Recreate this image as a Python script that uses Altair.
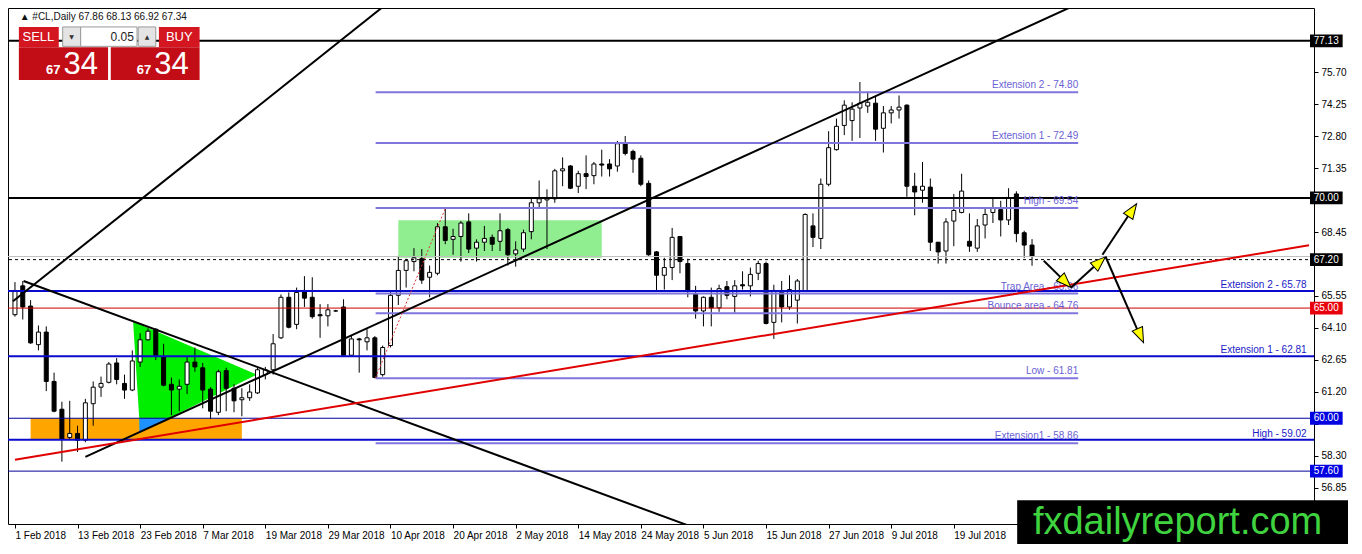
import altair as alt
import pandas as pd

# #CL daily bars, index 0 = 1 Feb 2018 ... 130 = last bar
opens = [64.70, 66.01, 65.09, 63.34, 63.91, 61.67, 60.41, 59.13, 59.31, 59.00,
         60.66, 61.41, 61.63, 62.51, 61.58, 61.28, 62.55, 63.56, 64.04, 62.77,
         61.54, 61.32, 61.54, 62.55, 62.29, 61.32, 60.27, 62.16, 61.36, 60.84,
         60.93, 61.15, 61.98, 62.20, 63.65, 65.49, 64.26, 65.80, 65.49, 64.70,
         64.65, 64.87, 65.05, 62.86, 63.60, 63.47, 63.65, 61.98, 63.30, 65.58,
         66.71, 67.11, 67.24, 66.40, 66.58, 68.69, 68.12, 68.25, 68.91, 67.72,
         67.99, 68.21, 68.03, 68.56, 67.46, 67.68, 68.47, 69.78, 69.91, 69.96,
         71.23, 71.45, 70.53, 71.10, 71.01, 71.54, 71.54, 71.45, 72.46, 72.11,
         71.80, 70.66, 67.55, 66.49, 66.84, 68.25, 67.02, 65.62, 64.87, 65.49,
         65.01, 65.97, 65.53, 66.06, 66.01, 66.58, 67.02, 64.35, 65.80, 65.05,
         65.36, 65.77, 68.73, 68.16, 70.62, 72.19, 73.29, 73.51, 74.08, 74.17,
         74.30, 73.16, 73.86, 73.99, 74.21, 70.53, 70.35, 70.49, 67.99, 67.59,
         68.95, 69.34, 68.03, 67.72, 68.77, 69.34, 69.47, 69.00, 70.18, 68.42,
         67.86]
highs = [66.18, 66.23, 65.36, 64.21, 64.17, 62.07, 60.75, 60.79, 59.66, 60.88,
         61.67, 61.89, 62.55, 62.73, 61.98, 63.08, 63.86, 64.08, 64.08, 63.38,
         61.85, 61.76, 62.77, 63.21, 62.51, 61.41, 62.20, 62.29, 61.54, 61.36,
         61.54, 62.29, 62.33, 63.82, 65.62, 65.71, 65.93, 66.45, 66.40, 65.18,
         65.18, 64.92, 65.40, 63.78, 63.65, 64.04, 63.73, 63.30, 65.80, 67.37,
         67.24, 67.72, 67.68, 66.93, 68.86, 69.54, 68.60, 68.95, 69.30, 68.12,
         68.73, 68.34, 69.30, 68.64, 68.03, 68.56, 69.96, 70.79, 70.39, 71.32,
         71.84, 71.49, 71.23, 71.93, 71.63, 72.19, 71.76, 72.59, 72.81, 72.19,
         71.93, 70.79, 67.59, 67.28, 68.64, 68.25, 67.24, 66.01, 65.53, 65.93,
         66.06, 66.23, 66.27, 66.67, 66.84, 67.15, 67.11, 66.06, 66.23, 66.49,
         66.32, 69.30, 69.30, 70.88, 73.03, 73.60, 74.43, 74.34, 75.26, 74.82,
         74.61, 74.17, 74.17, 74.65, 74.25, 71.14, 71.63, 70.88, 67.99, 69.08,
         70.18, 71.10, 69.30, 69.04, 69.56, 69.96, 69.87, 70.44, 70.30, 68.51,
         68.13]
lows = [64.61, 64.48, 63.38, 63.08, 61.23, 60.27, 58.03, 59.04, 58.47, 58.91,
        59.66, 60.97, 61.58, 61.54, 60.88, 61.23, 62.33, 63.52, 62.64, 61.45,
        60.14, 60.32, 61.10, 62.11, 60.45, 59.96, 60.14, 60.32, 60.27, 60.09,
        60.79, 61.10, 61.76, 61.98, 63.60, 64.08, 64.04, 65.05, 64.52, 63.65,
        64.17, 64.83, 62.86, 62.86, 62.07, 63.08, 61.81, 61.89, 63.21, 65.14,
        65.93, 66.67, 66.10, 65.49, 66.49, 67.90, 67.42, 67.11, 67.50, 67.11,
        67.59, 67.59, 67.59, 66.93, 66.88, 67.55, 68.12, 69.56, 67.68, 69.78,
        70.53, 70.40, 70.22, 70.40, 70.62, 70.97, 70.97, 71.19, 71.93, 71.14,
        70.53, 67.37, 65.80, 65.84, 66.27, 66.58, 65.49, 64.52, 64.17, 64.17,
        64.83, 65.40, 64.79, 65.84, 65.53, 66.27, 64.26, 63.60, 64.35, 64.92,
        64.30, 65.73, 67.77, 67.68, 70.53, 72.15, 72.85, 72.59, 72.72, 73.86,
        72.59, 72.06, 73.38, 73.60, 70.05, 69.21, 69.78, 67.59, 67.02, 67.02,
        67.81, 69.30, 67.55, 67.55, 68.16, 68.86, 68.25, 68.77, 67.99, 67.28,
        66.92]
closes = [65.80, 65.05, 63.42, 63.91, 61.67, 60.32, 59.04, 59.31, 59.00, 60.70,
          61.41, 61.58, 62.46, 61.76, 61.28, 62.60, 63.56, 63.95, 62.86, 61.50,
          61.28, 61.45, 62.55, 62.33, 61.28, 60.32, 62.11, 61.36, 60.79, 60.93,
          61.19, 62.20, 62.20, 63.38, 65.49, 64.13, 65.71, 65.45, 64.61, 64.65,
          64.92, 64.87, 62.86, 63.60, 63.56, 63.65, 61.85, 63.21, 65.58, 66.71,
          67.15, 67.28, 66.27, 66.62, 68.69, 68.07, 68.25, 68.86, 67.68, 67.99,
          68.16, 67.90, 68.51, 67.42, 67.64, 68.42, 69.78, 69.96, 70.00, 71.23,
          71.32, 70.44, 71.10, 70.97, 71.54, 71.49, 71.32, 72.46, 72.02, 71.76,
          70.62, 67.42, 66.49, 66.84, 68.21, 67.11, 65.75, 64.87, 65.49, 65.01,
          65.88, 65.58, 66.01, 66.01, 66.53, 67.02, 64.30, 65.80, 65.05, 65.84,
          66.23, 69.25, 68.21, 70.62, 72.28, 73.25, 74.21, 74.03, 74.30, 74.34,
          73.12, 73.86, 73.99, 74.12, 70.53, 70.27, 70.53, 67.99, 67.55, 68.91,
          69.43, 70.31, 67.81, 68.73, 69.25, 69.52, 69.00, 70.00, 68.38, 67.86,
          67.34]

date_labels = ["1 Feb 2018", "13 Feb 2018", "23 Feb 2018", "7 Mar 2018", "19 Mar 2018",
               "29 Mar 2018", "10 Apr 2018", "20 Apr 2018", "2 May 2018", "14 May 2018",
               "24 May 2018", "5 Jun 2018", "15 Jun 2018", "27 Jun 2018", "9 Jul 2018",
               "19 Jul 2018"]
price_ticks = [56.85, 58.30, 59.75, 61.20, 62.65, 64.10, 65.55, 67.00, 68.45,
               69.90, 71.35, 72.80, 74.25, 75.70]
# tick labels that sit under a price tag on the axis
covered_ticks = [59.75, 67.00, 69.90]

# horizontal levels across the whole chart
black_levels = [77.13, 70.00]
blue_levels = [65.78, 62.81, 59.02]
blue_level_names = ["Extension 2 - 65.78", "Extension 1 - 62.81", "High - 59.02"]
navy_levels = [60.00, 57.60]
red_levels = [65.00]
bid_level = [67.34]
dashed_level = [67.20]

# fibo-style levels drawn from the March low
fib_prices = [74.80, 72.49, 69.54, 65.66, 64.76, 61.81, 58.86]
fib_names = ["Extension 2 - 74.80", "Extension 1 - 72.49", "High - 69.54",
             "Trap Area - 65.66", "Bounce area - 64.76", "Low - 61.81",
             "Extension1 - 58.86"]

tag_prices = [77.13, 70.00, 67.20, 65.00, 60.00, 57.60]
tag_fills = ["#000000", "#000000", "#000000", "#e8000b", "#0000e0", "#0000e0"]

FONT = "Liberation Sans"
XS = alt.Scale(domain=[-0.25, 165.4], nice=False, zero=False)
YS = alt.Scale(domain=[55.2, 78.62], nice=False, zero=False)

label_js = "[" + ",".join("'%s'" % s for s in date_labels) + "][round(datum.value / 8)]"
ylabel_js = ("indexof([" + ",".join(str(v) for v in covered_ticks) +
             "], datum.value) >= 0 ? '' : format(datum.value, '.2f')")
XAX = alt.Axis(title=None, values=[8 * k for k in range(len(date_labels))],
               labelExpr=label_js, labelAlign="left", labelFont=FONT, labelFontSize=10,
               labelColor="black", labelPadding=2, labelOverlap=False, labelFlush=False,
               tickColor="black", tickSize=4, domain=False, grid=False)
YAX = alt.Axis(title=None, orient="right", values=price_ticks, labelExpr=ylabel_js,
               labelFont=FONT, labelFontSize=10, labelColor="black", labelPadding=3,
               labelOverlap=False, tickColor="black", tickSize=4, domain=False, grid=False)


def X(f):
    return alt.X(f, type="quantitative", scale=XS, axis=XAX)


def Y(f):
    return alt.Y(f, type="quantitative", scale=YS, axis=YAX)


def box(x0, x1, y0, y1, color, **kw):
    df = pd.DataFrame({"x0": x0, "x1": x1, "y0": y0, "y1": y1})
    return alt.Chart(df).mark_rect(color=color, opacity=1, **kw).encode(
        x=X("x0"), x2=alt.X2("x1"), y=Y("y0"), y2=alt.Y2("y1"))


def hlines(prices, color, width, **kw):
    return alt.Chart(pd.DataFrame({"p": prices})).mark_rule(
        color=color, strokeWidth=width, **kw).encode(y=Y("p"))


def segs(x0, y0, x1, y1, color, width, **kw):
    df = pd.DataFrame({"x0": x0, "y0": y0, "x1": x1, "y1": y1})
    return alt.Chart(df).mark_rule(color=color, strokeWidth=width, **kw).encode(
        x=X("x0"), y=Y("y0"), x2=alt.X2("x1"), y2=alt.Y2("y1"))


def texts(xs, ys, labels, **kw):
    df = pd.DataFrame({"x": xs, "y": ys, "t": labels})
    return alt.Chart(df).mark_text(**kw).encode(x=X("x"), y=Y("y"), text="t:N")


bars = pd.DataFrame({"i": range(len(opens)), "o": opens, "h": highs, "l": lows, "c": closes})

layers = []
# background zones
layers.append(box([2.0], [29.0], [60.0], [59.04], "#ffa500"))
layers.append(box([49.0], [75.0], [68.99], [67.28], "#90ee90"))
tri = pd.DataFrame({"x": [15.1, 16.0, 30.9], "top": [64.39, 64.25, 61.98],
                    "bot": [64.39, 59.35, 61.98]})
layers.append(alt.Chart(tri).mark_area(color="#00ee00", opacity=1).encode(
    x=X("x"), y=Y("top"), y2=alt.Y2("bot")))
patch = pd.DataFrame({"x": [15.9, 20.0], "top": [60.0, 60.0], "bot": [59.38, 60.0]})
layers.append(alt.Chart(patch).mark_area(color="#1e90ff", opacity=1).encode(
    x=X("x"), y=Y("top"), y2=alt.Y2("bot")))

# candles
layers.append(alt.Chart(bars).mark_rule(color="black", strokeWidth=1).encode(
    x=X("i"), y=Y("l"), y2=alt.Y2("h")))
layers.append(alt.Chart(bars).mark_bar(size=4, stroke="black", strokeWidth=1, opacity=1).encode(
    x=X("i"), y=Y("o"), y2=alt.Y2("c"),
    fill=alt.condition("datum.c > datum.o", alt.value("white"), alt.value("black"))))

# levels
layers.append(hlines(bid_level, "#c0c0c0", 1))
layers.append(hlines(dashed_level, "black", 1, strokeDash=[3, 3]))
layers.append(hlines(red_levels, "#cc0000", 1))
layers.append(hlines(navy_levels, "#000099", 1))
layers.append(hlines(blue_levels, "#0a0acc", 2))
layers.append(hlines(black_levels, "black", 2))

fib = pd.DataFrame({"p": fib_prices, "t": fib_names}).assign(x0=46.1, x1=135.9)
layers.append(alt.Chart(fib).mark_rule(color="#7e76dc", strokeWidth=2).encode(
    x=X("x0"), x2=alt.X2("x1"), y=Y("p")))
layers.append(alt.Chart(fib).mark_text(align="right", baseline="bottom", dy=-2, font=FONT,
                                       fontSize=10, color="#6a62d4").encode(
    x=X("x1"), y=Y("p"), text="t:N"))
layers.append(texts([165.1] * 3, blue_levels, blue_level_names, align="right",
                    baseline="bottom", dy=-1, font=FONT, fontSize=10, color="#1a1ac8"))

# trend lines
layers.append(segs([-0.25, 9.0, 1.1], [65.31, 58.25, 66.23], [47.2, 136.0, 86.0],
                   [78.72, 78.83, 55.14], "black", 2, clip=True))
layers.append(segs([0.0], [58.12], [165.4], [67.85], "#e00000", 2, clip=True))
layers.append(segs([46.1], [61.85], [55.0], [69.52], "#dd3333", 1, strokeDash=[2, 2]))

# arrows
layers.append(segs([131.5, 135.0, 139.0, 139.4], [67.15, 65.93, 67.42, 67.33],
                   [134.25, 138.5, 142.75, 143.75], [66.19, 67.07, 69.43, 63.78], "black", 2))
heads = pd.DataFrame({"x": [134.2, 138.55, 142.75, 143.8], "y": [66.21, 67.06, 69.41, 63.79],
                      "a": [135, 48, 34, 156]})
layers.append(alt.Chart(heads).mark_point(
    shape="M0,-1L0.65,0.75L-0.65,0.75Z", size=300, filled=True, color="#ffff00",
    stroke="black", strokeWidth=1, opacity=1).encode(
    x=X("x"), y=Y("y"), angle=alt.Angle("a:Q", scale=None)))

# price tags on the right axis
tags = pd.DataFrame({"p": tag_prices, "f": tag_fills,
                     "t": ["%.2f" % p for p in tag_prices]})
tags = tags.assign(x0=165.53, x1=169.7, y0=tags.p + 0.29, y1=tags.p - 0.29, xc=167.6)
layers.append(alt.Chart(tags).mark_rect(opacity=1).encode(
    x=X("x0"), x2=alt.X2("x1"), y=Y("y0"), y2=alt.Y2("y1"),
    color=alt.Color("f:N", scale=None)))
layers.append(alt.Chart(tags).mark_text(font=FONT, fontSize=10, color="white",
                                        baseline="middle").encode(
    x=X("xc"), y=Y("p"), text="t:N"))

# watermark
layers.append(box([128.1], [176.0], [56.28], [53.0], "black"))
layers.append(texts([148.6], [54.75], ["fxdailyreport.com"], font="Liberation Sans",
                    fontSize=38, color="#3fd43f", align="center", baseline="alphabetic"))

# one-click trading panel
layers.append(box([6.1, 15.75], [8.4, 18.0], [77.76, 77.76], [76.88, 76.88], "#e4e4e4",
                  stroke="#9a9a9a", strokeWidth=1))
layers.append(box([8.4], [15.6], [77.76], [76.88], "white", stroke="#9a9a9a", strokeWidth=1))
layers.append(box([0.5, 18.4], [5.6, 23.6], [77.76, 77.76], [76.84, 76.84], "#d3161f"))
layers.append(box([0.5, 12.25], [11.9, 23.6], [76.84, 76.84], [75.35, 75.35], "#c20d17"))
layers.append(texts([3.0, 21.0], [77.32, 77.32], ["SELL", "BUY"], font="Liberation Sans",
                    fontSize=13, color="white", align="center", baseline="middle"))
layers.append(texts([15.2], [77.32], ["0.05"], font="Liberation Sans", fontSize=12,
                    color="#222222", align="right", baseline="middle"))
layers.append(texts([7.25, 16.9], [77.32, 77.32], ["\u25bc", "\u25b2"], font="DejaVu Sans",
                    fontSize=6, color="#333333", align="center", baseline="middle"))
layers.append(texts([4.9, 16.5], [75.62, 75.62], ["67", "67"], font="Liberation Sans",
                    fontSize=13, fontWeight="bold", color="white", align="center",
                    baseline="alphabetic"))
layers.append(texts([8.4, 20.0], [75.62, 75.62], ["34", "34"], font="Liberation Sans",
                    fontSize=31, color="white", align="center", baseline="alphabetic"))
layers.append(texts([0.6], [78.2], ["\u25b2 #CL,Daily  67.86 68.13 66.92 67.34"], font=FONT,
                    fontSize=10, color="#111111", align="left", baseline="middle"))

chart = alt.layer(*layers).properties(
    width=1306, height=516,
    padding={"left": 0, "top": 0, "right": 34, "bottom": 20},
    autosize=alt.AutoSizeParams(type="none"),
    background="white",
).configure_view(stroke="black", strokeWidth=1)

chart.save("out.html", embed_options={"renderer": "svg", "actions": False})
